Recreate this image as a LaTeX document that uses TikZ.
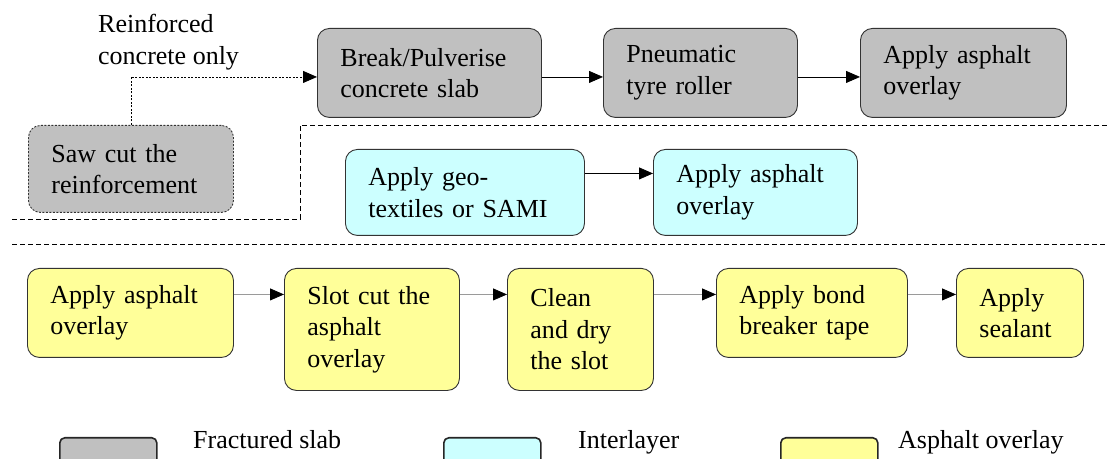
\documentclass[tikz,border=0pt]{standalone}
\usepackage{fontspec}
\setmainfont{Liberation Serif}
\usetikzlibrary{arrows.meta}
\definecolor{slabgray}{HTML}{C0C0C0}
\definecolor{interlayer}{HTML}{CCFFFF}
\definecolor{overlayyellow}{HTML}{FFFF99}
\definecolor{edgegray}{HTML}{333333}
\definecolor{linkgray}{HTML}{9A9A9A}
\newcommand\labelfont{\fontsize{26bp}{31.5bp}\selectfont}
\begin{document}
\begin{tikzpicture}[x=1bp,y=-1bp,
  every node/.style={font=\labelfont},
  stagebox/.style={draw=edgegray, line width=0.9bp, rounded corners=12bp,
    anchor=north west, inner xsep=23bp, inner ysep=0pt, align=left},
  slabbox/.style={stagebox, fill=slabgray},
  layerbox/.style={stagebox, fill=interlayer},
  overlaybox/.style={stagebox, fill=overlayyellow},
  flow/.style={line width=0.8bp, -{Triangle[length=14bp,width=12bp]}},
  greyflow/.style={line width=0.8bp, draw=linkgray,
    -{Triangle[length=14bp,width=12bp,color=black,fill=black]}},
  optional/.style={flow, dash pattern=on 2bp off 1.5bp},
  divider/.style={line width=0.8bp, dash pattern=on 5bp off 3bp},
  keybox/.style={draw=black!85, line width=1.6bp, rounded corners=5bp,
    anchor=north west, inner sep=0pt, minimum width=97bp, minimum height=40bp}
]
\clip (0,0) rectangle (1107,459);

% fractured slab route
\node[anchor=north west, inner sep=0pt, align=left] (note) at (98,14)
  {Reinforced\\concrete only};
\node[slabbox, dash pattern=on 2bp off 1.5bp, minimum width=205bp, minimum height=87bp,
  text width=159bp] (saw) at (28,125) {Saw cut the\\reinforcement};
\node[slabbox, minimum width=224bp, minimum height=89bp, text width=178bp]
  (brk) at (317,28) {Break/Pulverise\\concrete slab};
\node[slabbox, minimum width=194bp, minimum height=89bp, text width=148bp]
  (pnm) at (603,28) {Pneumatic\\tyre roller};
\node[slabbox, minimum width=206bp, minimum height=89bp, text width=160bp]
  (apg) at (860,28) {Apply asphalt\\overlay};

\coordinate (tl) at ([yshift=-4bp]brk.east);
\draw[optional] (saw.north) |- (tl -| brk.west);
\draw[flow] (tl) -- (tl -| pnm.west);
\draw[flow] (tl -| pnm.east) -- (tl -| apg.west);

% interlayer route
\node[layerbox, minimum width=239bp, minimum height=86bp, text width=193bp]
  (geo) at (345,149) {Apply geo-\\textiles or SAMI};
\node[layerbox, minimum width=204bp, minimum height=86bp, text width=158bp]
  (apc) at (653,149) {Apply asphalt\\overlay};
\coordinate (ml) at ([yshift=19bp]geo.east);
\draw[flow] (ml) -- (ml -| apc.west);

% asphalt overlay route
\node[overlaybox, minimum width=206bp, minimum height=89bp, text width=160bp]
  (ya) at (27,268) {Apply asphalt\\overlay};
\node[overlaybox, minimum width=175bp, minimum height=122bp, text width=129bp]
  (slot) at (284,268) {Slot cut the\\asphalt\\overlay};
\node[overlaybox, minimum width=146bp, minimum height=122bp, text width=100bp]
  (clean) at (507,268) {Clean\\and dry\\the slot};
\node[overlaybox, minimum width=191bp, minimum height=89bp, text width=145bp]
  (bond) at (716,268) {Apply bond\\breaker tape};
\node[overlaybox, minimum width=127bp, minimum height=89bp, text width=81bp]
  (seal) at (956,268) {Apply\\sealant};
\coordinate (bl) at ([yshift=18.5bp]ya.east);
\draw[greyflow] (bl) -- (bl -| slot.west);
\draw[greyflow] (bl -| slot.east) -- (bl -| clean.west);
\draw[greyflow] (bl -| clean.east) -- (bl -| bond.west);
\draw[greyflow] (bl -| bond.east) -- (bl -| seal.west);

% route dividers
\draw[divider] (1107,125) -- (300,125) -- (300,219) -- (12,219);
\draw[divider] (12,244) -- (1107,244);

% key
\node[keybox, fill=slabgray] (k1) at (59,437) {};
\node[keybox, fill=interlayer] (k2) at (443,437) {};
\node[keybox, fill=overlayyellow] (k3) at (780,437) {};
\node[anchor=base west, inner sep=0pt] (t1) at (193,448) {Fractured slab};
\node[anchor=base west, inner sep=0pt] (t2) at (578,448) {Interlayer};
\node[anchor=base west, inner sep=0pt] (t3) at (898,448) {Asphalt overlay};
\end{tikzpicture}
\end{document}
